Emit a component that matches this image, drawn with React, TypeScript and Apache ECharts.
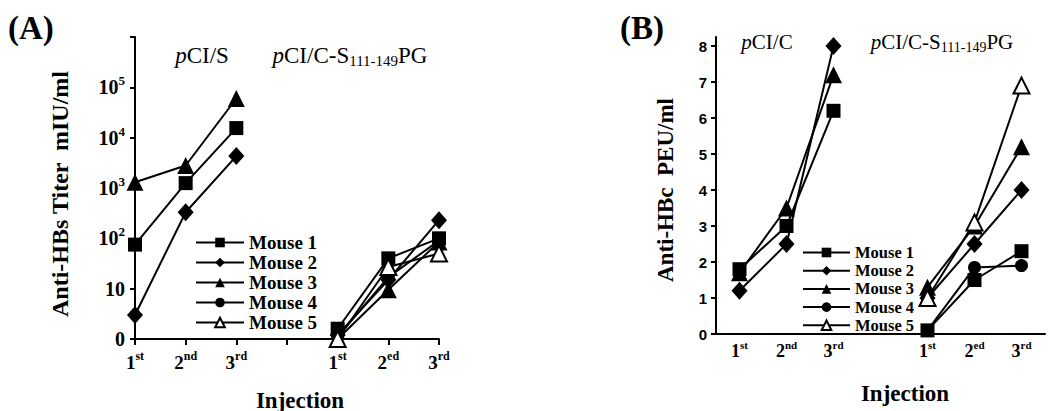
import React, { useEffect, useRef } from "react";
import * as echarts from "echarts";

const categoriesA = ["1st", "2nd", "3rd", "", "1st", "2ed", "3rd"];
const categoriesB = ["1st", "2nd", "3rd", "", "1st", "2ed", "3rd"];
const seriesNames = ["Mouse 1", "Mouse 2", "Mouse 3", "Mouse 4", "Mouse 5"];

// Panel A: Anti-HBs titer (mIU/ml), log scale; "0" label marks 1
const mouse1A = [75, 1250, 15500, null, 1.6, 40, 100];
const mouse2A = [3, 330, 4300, null, 1.2, 15, 230];
const mouse3A = [1300, 2800, 60000, null, 1, 9.5, 85];
const mouse4A = [null, null, null, null, 1.1, 17, 90];
const mouse5A = [null, null, null, null, 1, 27, 50];

// Panel B: Anti-HBc PEU/ml
const mouse1B = [1.8, 3.0, 6.2, null, 0.1, 1.5, 2.3];
const mouse2B = [1.2, 2.5, 8.0, null, 1.0, 2.5, 4.0];
const mouse3B = [1.7, 3.5, 7.2, null, 1.3, 3.0, 5.2];
const mouse4B = [null, null, null, null, 0.1, 1.85, 1.9];
const mouse5B = [null, null, null, null, 1.0, 3.1, 6.9];

const yTicksB = [0, 1, 2, 3, 4, 5, 6, 7, 8];

const SERIF = "'Liberation Serif', 'Times New Roman', serif";
const NARROW = "'Liberation Sans Narrow', 'Liberation Sans', Arial, sans-serif";

const symbols: any[] = [
  { symbol: "rect", symbolSize: 14, itemStyle: { color: "#000" } },
  { symbol: "diamond", symbolSize: [16, 18], itemStyle: { color: "#000" } },
  { symbol: "triangle", symbolSize: 17, itemStyle: { color: "#000" } },
  { symbol: "circle", symbolSize: 13, itemStyle: { color: "#000" } },
  {
    symbol: "triangle",
    symbolSize: 16,
    itemStyle: { color: "#fff", borderColor: "#000", borderWidth: 2 },
  },
];

const dataA = [mouse1A, mouse2A, mouse3A, mouse4A, mouse5A];
const dataB = [mouse1B, mouse2B, mouse3B, mouse4B, mouse5B];

function ordLabel(v: string) {
  if (!v) return "";
  return `${v[0]}{s|${v.slice(1)}}`;
}

export default function App() {
  const ref = useRef<HTMLDivElement>(null);
  useEffect(() => {
    if (!ref.current) return;
    const chart = echarts.init(ref.current, undefined, { renderer: "svg" });
    const series: any[] = [];
    seriesNames.forEach((name, i) => {
      series.push({
        name,
        type: "line",
        xAxisIndex: 0,
        yAxisIndex: 0,
        data: dataA[i],
        connectNulls: false,
        clip: false,
        lineStyle: { color: "#000", width: 2 },
        ...symbols[i],
      });
      series.push({
        name,
        type: "line",
        xAxisIndex: 1,
        yAxisIndex: 1,
        data: dataB[i],
        connectNulls: false,
        clip: false,
        lineStyle: { color: "#000", width: 2 },
        ...symbols[i],
      });
    });

    const xLabel = (size: number) => ({
      interval: 0,
      color: "#000",
      fontFamily: SERIF,
      fontWeight: "bold",
      fontSize: size,
      lineHeight: size + 6,
      formatter: ordLabel,
      rich: {
        s: {
          fontFamily: SERIF,
          fontWeight: "bold",
          fontSize: Math.round(size * 0.62),
          lineHeight: Math.round(size * 0.62),
          verticalAlign: "top",
          color: "#000",
        },
      },
    });

    const legendText = (size: number) => ({
      fontFamily: SERIF,
      fontWeight: "bold",
      fontSize: size,
      color: "#000",
    });

    chart.setOption({
      animation: false,
      backgroundColor: "#fff",
      grid: [
        { left: 135, top: 37, width: 304, height: 302 },
        { left: 716, top: 37, width: 329, height: 297 },
      ],
      legend: [
        {
          orient: "vertical",
          data: seriesNames,
          selectedMode: false,
          left: 190,
          top: 228,
          itemWidth: 48,
          itemHeight: 12,
          itemGap: 1,
          textStyle: legendText(19),
        },
        {
          orient: "vertical",
          data: seriesNames,
          selectedMode: false,
          left: 797,
          top: 239,
          itemWidth: 47,
          itemHeight: 12,
          itemGap: 1.2,
          textStyle: legendText(16.5),
        },
      ],
      xAxis: [
        {
          type: "category",
          gridIndex: 0,
          data: categoriesA,
          boundaryGap: false,
          axisLine: { lineStyle: { color: "#000", width: 2 } },
          axisTick: { interval: 0, length: 6, lineStyle: { color: "#000", width: 2 } },
          axisLabel: { ...xLabel(19), margin: 11 },
          splitLine: { show: false },
        },
        {
          type: "category",
          gridIndex: 1,
          data: categoriesB,
          boundaryGap: true,
          axisLine: { lineStyle: { color: "#000", width: 2 } },
          axisTick: { interval: 0, length: 5, lineStyle: { color: "#000", width: 2 } },
          axisLabel: { ...xLabel(18), margin: 5 },
          splitLine: { show: false },
        },
      ],
      yAxis: [
        {
          type: "log",
          gridIndex: 0,
          logBase: 10,
          min: 1,
          max: 1000000,
          splitNumber: 6,
          axisLine: { show: true, lineStyle: { color: "#000", width: 2 } },
          axisTick: { show: true, length: 5, lineStyle: { color: "#000", width: 2 } },
          splitLine: { show: false },
          axisLabel: {
            color: "#000",
            fontFamily: SERIF,
            fontWeight: "bold",
            fontSize: 20,
            lineHeight: 26,
            margin: 10,
            formatter: (v: number) => {
              if (v >= 999999) return "";
              if (Math.abs(v - 1) < 1e-6) return "0";
              if (Math.abs(v - 10) < 1e-6) return "10";
              return `10{s|${Math.round(Math.log10(v))}}`;
            },
            rich: {
              s: {
                fontFamily: SERIF,
                fontWeight: "bold",
                fontSize: 13,
                lineHeight: 13,
                verticalAlign: "top",
                color: "#000",
              },
            },
          },
        },
        {
          type: "value",
          gridIndex: 1,
          min: 0,
          max: 8.25,
          interval: 1,
          axisLine: { show: true, lineStyle: { color: "#000", width: 2 } },
          axisTick: { show: true, length: 5, customValues: yTicksB, lineStyle: { color: "#000", width: 2 } },
          splitLine: { show: false },
          axisLabel: {
            customValues: yTicksB,
            color: "#000",
            fontFamily: NARROW,
            fontWeight: "bold",
            fontSize: 15,
            margin: 9,
          },
        },
      ],
      graphic: [
        {
          type: "text",
          x: 8,
          y: 11,
          style: { text: "(A)", fontFamily: SERIF, fontWeight: "bold", fontSize: 33, fill: "#000" },
        },
        {
          type: "text",
          x: 620,
          y: 11,
          style: { text: "(B)", fontFamily: SERIF, fontWeight: "bold", fontSize: 33, fill: "#000" },
        },
        {
          type: "text",
          x: 60,
          y: 194,
          rotation: Math.PI / 2,
          style: {
            text: "Anti-HBs Titer  mIU/ml",
            fontFamily: SERIF,
            fontWeight: "bold",
            fontSize: 24,
            fill: "#000",
            align: "center",
            verticalAlign: "middle",
          },
        },
        {
          type: "text",
          x: 665,
          y: 190,
          rotation: Math.PI / 2,
          style: {
            text: "Anti-HBc  PEU/ml",
            fontFamily: SERIF,
            fontWeight: "bold",
            fontSize: 23,
            fill: "#000",
            align: "center",
            verticalAlign: "middle",
          },
        },
        {
          type: "text",
          x: 300,
          y: 400,
          style: { text: "Injection", fontFamily: SERIF, fontWeight: "bold", fontSize: 23, fill: "#000", align: "center", verticalAlign: "middle" },
        },
        {
          type: "text",
          x: 905,
          y: 393,
          style: { text: "Injection", fontFamily: SERIF, fontWeight: "bold", fontSize: 23, fill: "#000", align: "center", verticalAlign: "middle" },
        },
        {
          type: "text",
          x: 202,
          y: 55,
          style: {
            text: "{i|p}CI/S",
            fontFamily: SERIF,
            fontSize: 23,
            fill: "#000",
            align: "center",
            verticalAlign: "middle",
            rich: { i: { fontFamily: SERIF, fontSize: 23, fontStyle: "italic", fill: "#000" } },
          },
        },
        {
          type: "text",
          x: 350,
          y: 55,
          style: {
            text: "{i|p}CI/C-S{sub|111-149}PG",
            fontFamily: SERIF,
            fontSize: 23,
            lineHeight: 27,
            fill: "#000",
            align: "center",
            verticalAlign: "middle",
            rich: {
              i: { fontFamily: SERIF, fontSize: 23, lineHeight: 27, fontStyle: "italic", fill: "#000" },
              sub: { fontFamily: SERIF, fontSize: 15, lineHeight: 15, verticalAlign: "bottom", fill: "#000" },
            },
          },
        },
        {
          type: "text",
          x: 767,
          y: 42,
          style: {
            text: "{i|p}CI/C",
            fontFamily: SERIF,
            fontSize: 21,
            fill: "#000",
            align: "center",
            verticalAlign: "middle",
            rich: { i: { fontFamily: SERIF, fontSize: 21, fontStyle: "italic", fill: "#000" } },
          },
        },
        {
          type: "text",
          x: 942,
          y: 42,
          style: {
            text: "{i|p}CI/C-S{sub|111-149}PG",
            fontFamily: SERIF,
            fontSize: 21,
            lineHeight: 25,
            fill: "#000",
            align: "center",
            verticalAlign: "middle",
            rich: {
              i: { fontFamily: SERIF, fontSize: 21, lineHeight: 25, fontStyle: "italic", fill: "#000" },
              sub: { fontFamily: SERIF, fontSize: 14, lineHeight: 14, verticalAlign: "bottom", fill: "#000" },
            },
          },
        },
      ],
      series,
    });
    return () => chart.dispose();
  }, []);
  return (
    <div
      ref={ref}
      style={{ position: "fixed", left: 0, top: 0, width: 1050, height: 411, background: "#fff" }}
    />
  );
}
